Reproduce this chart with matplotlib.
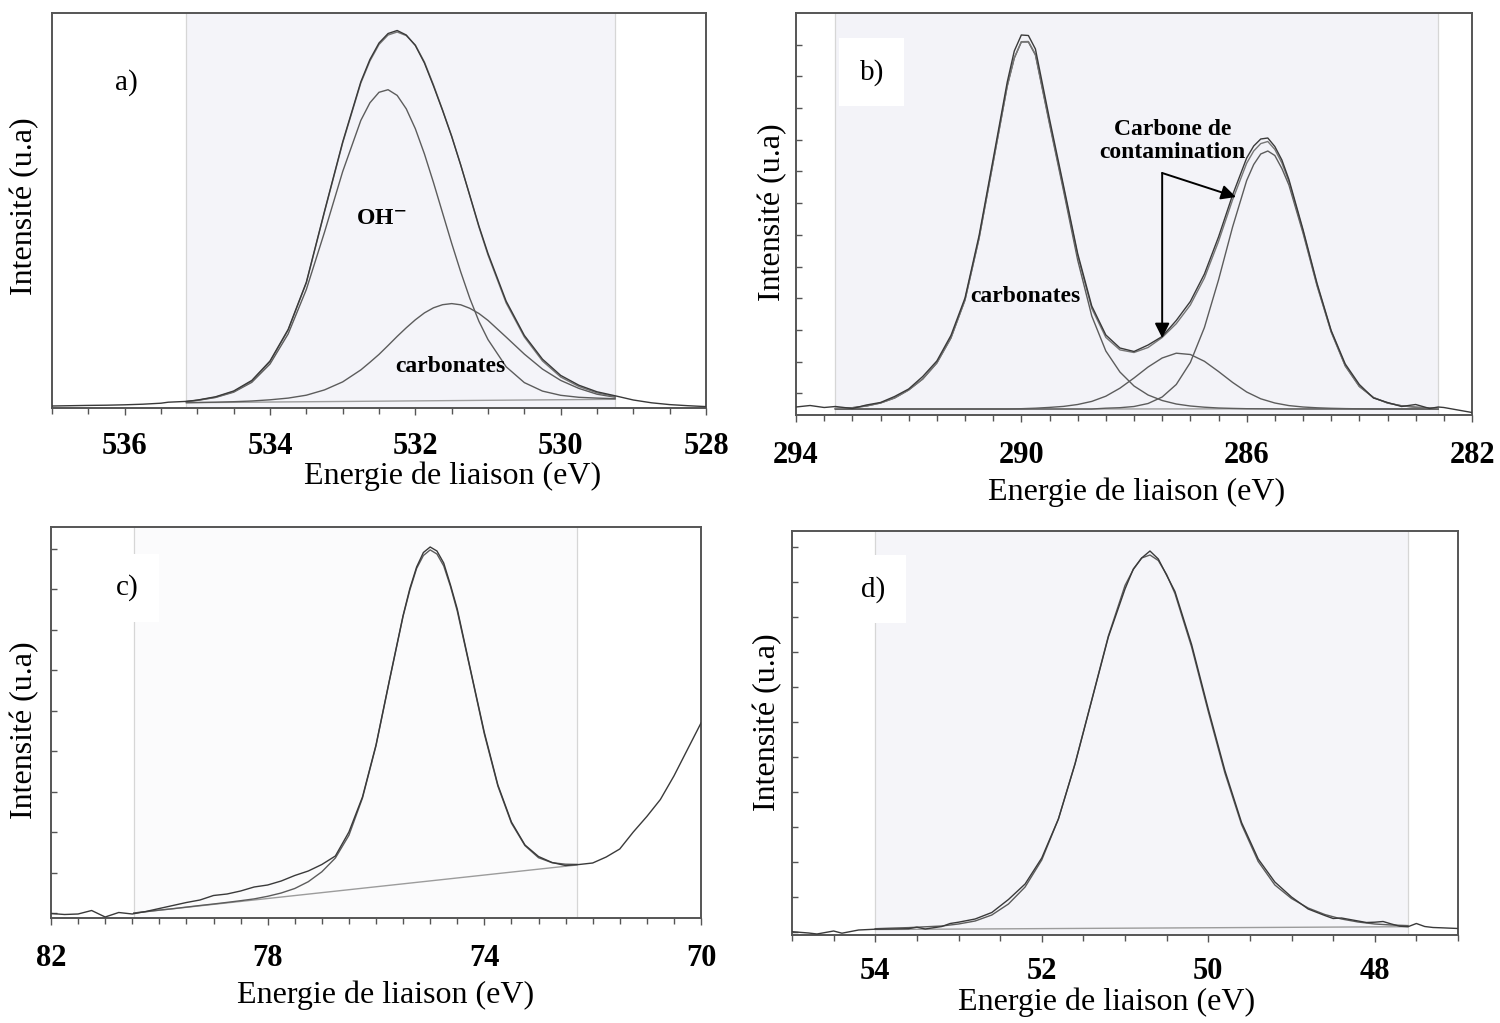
import matplotlib
matplotlib.use('Agg')
import numpy as np
import matplotlib.pyplot as plt
from matplotlib.ticker import MultipleLocator, StrMethodFormatter

plt.rcParams['font.family'] = ['Liberation Serif', 'DejaVu Serif']
plt.rcParams['mathtext.fontset'] = 'stix'

# ---- a) O 1s ----
a_e = [535.15, 535.0, 534.75, 534.5, 534.25, 534.0, 533.75, 533.5, 533.25, 533.0,
       532.75, 532.625, 532.5, 532.375, 532.25, 532.125, 532.0, 531.875, 531.75,
       531.625, 531.5, 531.375, 531.25, 531.125, 531.0, 530.75, 530.5, 530.25,
       530.0, 529.75, 529.5, 529.25]
a_oh = [6.5, 7.6, 10.5, 15.8, 25.7, 44.0, 74.1, 118.5, 175.8, 236.4,
        287.6, 305.2, 315.7, 318.3, 312.6, 299.2, 279.3, 254.1, 225.4,
        195.0, 164.7, 136.0, 109.6, 86.7, 68.4, 41.2, 25.4, 16.9,
        12.7, 10.7, 9.9, 9.3]
a_carb = [5.3, 5.5, 5.8, 6.3, 7.0, 8.2, 9.9, 12.8, 18.1, 26.1,
          38.1, 45.7, 53.6, 62.5, 71.6, 80.2, 88.2, 95.1, 100.2,
          103.3, 104.4, 103.2, 99.7, 94.5, 87.6, 70.9, 53.9, 38.9,
          27.6, 19.6, 13.8, 10.8]
a_env = [6.5, 7.7, 10.8, 16.4, 26.9, 46.2, 77.9, 125.1, 196.0, 265.0,
         325.0, 347.0, 363.5, 373.0, 376.0, 372.4, 363.0, 346.0, 323.0,
         298.0, 272.0, 243.0, 212.0, 181.0, 153.0, 105.0, 71.0, 47.0,
         31.0, 21.5, 15.1, 11.4]
a_bg_e = [535.15, 529.25]
a_bg = [5.3, 8.7]
a_raw_e = [537.0, 536.75, 536.5, 536.25, 536.0, 535.75, 535.5, 535.4,
           535.15, 535.0, 534.75, 534.5, 534.25, 534.0, 533.75, 533.5, 533.25, 533.0,
           532.75, 532.625, 532.5, 532.375, 532.25, 532.125, 532.0, 531.875, 531.75,
           531.625, 531.5, 531.375, 531.25, 531.125, 531.0, 530.75, 530.5, 530.25,
           530.0, 529.75, 529.5, 529.25,
           529.0, 528.75, 528.5, 528.25, 528.0]
a_raw = [2.0, 2.3, 2.6, 2.8, 3.2, 3.8, 4.8, 5.8,
         6.6, 7.9, 11.2, 17.0, 27.6, 47.0, 78.6, 125.8, 196.8, 266.0,
         326.2, 348.5, 365.0, 374.5, 377.5, 373.0, 362.5, 345.0, 322.0,
         297.5, 271.5, 242.8, 212.5, 182.0, 154.5, 106.8, 72.6, 48.8,
         32.6, 22.8, 16.2, 12.2,
         8.0, 5.2, 3.4, 2.3, 1.4]

# ---- b) C 1s ----
b_carb_e = [293.3, 293.0, 292.75, 292.5, 292.25, 292.0, 291.75, 291.5, 291.25, 291.0,
            290.75, 290.5, 290.25, 290.125, 290.0, 289.875, 289.75, 289.5, 289.25,
            289.0, 288.75, 288.5, 288.25, 288.0, 287.75, 287.5, 287.25, 287.0, 286.75,
            286.5, 286.25, 286.0, 285.75, 285.5, 285.25, 282.6]
b_carb = [4.5, 5.3, 7.0, 10.0, 15.0, 23.0, 34.0, 50.0, 75.0, 113.0,
          174.8, 250.7, 327.0, 355.0, 371.0, 371.0, 358.0, 289.0, 222.0,
          153.0, 97.0, 62.0, 41.0, 27.0, 18.0, 12.5, 9.0, 7.0, 5.8,
          5.0, 4.6, 4.3, 4.2, 4.1, 4.0, 4.0]
b_mid_e = [293.3, 290.25, 290.0, 289.75, 289.5, 289.25, 289.0, 288.75, 288.5, 288.25,
           288.0, 287.75, 287.5, 287.25, 287.0, 286.75, 286.5, 286.25, 286.0, 285.75,
           285.5, 285.25, 285.0, 284.75, 284.5, 284.25, 284.0, 283.75, 282.6]
b_mid = [4.0, 4.0, 4.3, 4.8, 5.6, 6.6, 8.5, 11.6, 16.8, 24.8,
         35.0, 46.0, 55.0, 59.8, 58.5, 51.7, 41.5, 30.6, 21.0, 14.2,
         10.0, 7.4, 6.0, 5.2, 4.7, 4.4, 4.2, 4.0, 4.0]
b_cc_e = [293.3, 288.75, 288.5, 288.25, 288.0, 287.75, 287.5, 287.25, 287.0, 286.75,
          286.5, 286.25, 286.0, 285.875, 285.75, 285.625, 285.5, 285.375, 285.25,
          285.0, 284.75, 284.5, 284.25, 284.0, 283.75, 283.5, 283.25, 283.0, 282.75,
          282.6]
b_cc = [4.0, 4.0, 4.8, 5.3, 6.5, 9.5, 16.0, 28.5, 50.5, 85.5,
        133.0, 186.0, 232.5, 248.5, 259.0, 262.0, 257.5, 244.5, 228.0,
        180.0, 127.0, 81.0, 47.0, 26.5, 15.5, 10.0, 7.2, 5.8, 5.0,
        4.7]
b_env_e = [293.3, 293.0, 292.75, 292.5, 292.25, 292.0, 291.75, 291.5, 291.25, 291.0,
           290.75, 290.5, 290.25, 290.125, 290.0, 289.875, 289.75, 289.5, 289.25,
           289.0, 288.75, 288.5, 288.25, 288.0, 287.75, 287.5, 287.25, 287.0, 286.75,
           286.5, 286.25, 286.0, 285.875, 285.75, 285.625, 285.5, 285.375, 285.25,
           285.0, 284.75, 284.5, 284.25, 284.0, 283.75, 283.5, 283.25, 283.0, 282.75,
           282.6]
b_env = [4.5, 5.3, 7.0, 10.0, 15.0, 23.0, 34.0, 50.0, 75.0, 113.0,
         174.8, 250.7, 327.0, 355.0, 371.3, 371.5, 358.8, 290.6, 224.6,
         157.5, 104.6, 75.6, 63.1, 60.5, 65.5, 75.5, 89.3, 108.0, 135.0,
         171.5, 213.2, 249.8, 262.0, 269.4, 271.5, 263.6, 250.0, 231.4,
         182.0, 128.2, 81.7, 47.4, 26.7, 15.5, 10.0, 7.2, 5.8, 5.0,
         4.7]
b_bg_e = [293.3, 282.6]
b_bg = [3.8, 4.3]
b_raw_e = [294.0, 293.75, 293.5,
           293.3, 293.0, 292.75, 292.5, 292.25, 292.0, 291.75, 291.5, 291.25, 291.0,
           290.75, 290.5, 290.25, 290.125, 290.0, 289.875, 289.75, 289.5, 289.25,
           289.0, 288.75, 288.5, 288.25, 288.0, 287.75, 287.5, 287.25, 287.0, 286.75,
           286.5, 286.25, 286.0, 285.875, 285.75, 285.625, 285.5, 285.375, 285.25,
           285.0, 284.75, 284.5, 284.25, 284.0, 283.75, 283.5, 283.25, 283.0, 282.75,
           282.6, 282.5, 282.25, 282.0]
b_raw = [6.0, 7.5, 5.5,
         6.5, 4.5, 8.0, 10.5, 16.5, 24.0, 36.5, 52.0, 77.5, 115.0,
         177.5, 254.0, 331.0, 362.0, 378.0, 377.5, 364.0, 294.0, 227.0,
         159.5, 107.0, 78.0, 65.0, 61.5, 68.0, 76.5, 92.5, 111.5, 139.0,
         176.0, 218.0, 255.0, 267.0, 274.0, 275.0, 266.5, 253.0, 233.5,
         183.5, 129.5, 82.5, 49.0, 28.5, 15.0, 10.5, 6.5, 8.5, 4.5,
         6.0, 5.5, 3.0, 0.5]

# ---- c) ----
c_e = [80.47, 80.25, 80.0, 79.75, 79.5, 79.25, 79.0, 78.75, 78.5, 78.25, 78.0,
       77.75, 77.5, 77.25, 77.0, 76.75, 76.5, 76.25, 76.0, 75.75, 75.5, 75.375,
       75.25, 75.125, 75.0, 74.875, 74.75, 74.625, 74.5, 74.25, 74.0, 73.75, 73.5,
       73.25, 73.0, 72.75, 72.5, 72.29]
c_fit = [5.0, 6.3, 7.9, 9.3, 10.9, 12.5, 14.0, 15.6, 17.3, 19.1, 21.7,
         25.0, 29.5, 36.3, 46.2, 60.0, 82.7, 119.9, 172.2, 237.7, 301.7, 328.0,
         349.6, 362.5, 368.1, 364.0, 352.1, 331.5, 307.0, 246.0, 184.0, 131.9, 94.9,
         72.4, 60.3, 55.3, 53.8, 53.6]
c_bg_e = [80.47, 72.29]
c_bg = [5.0, 53.0]
c_raw_e = [82.0, 81.75, 81.5, 81.25, 81.0, 80.75, 80.5, 80.25, 80.0, 79.75,
           79.5, 79.25, 79.0, 78.75, 78.5, 78.25, 78.0, 77.75, 77.5, 77.25,
           77.0, 76.75, 76.5, 76.25, 76.0, 75.75, 75.5, 75.375, 75.25, 75.125,
           75.0, 74.875, 74.75, 74.625, 74.5, 74.25, 74.0, 73.75, 73.5, 73.25,
           73.0, 72.75, 72.5, 72.25, 72.0, 71.75, 71.5, 71.25, 71.0, 70.75,
           70.5, 70.25, 70.0]
c_raw = [4.5, 3.5, 4.0, 7.5, 1.0, 5.5, 4.0, 6.5, 9.5, 12.5,
         15.5, 18.0, 22.5, 24.0, 27.0, 31.0, 33.0, 37.0, 42.5, 47.0,
         53.5, 62.0, 86.0, 121.0, 173.0, 238.5, 302.5, 329.5, 351.0, 365.5,
         371.0, 367.0, 355.0, 333.0, 309.0, 247.0, 185.5, 133.0, 96.0, 73.0,
         61.5, 55.5, 52.5, 53.5, 55.0, 61.0, 69.0, 86.0, 101.5, 118.5,
         142.0, 168.5, 195.0]

# ---- d) ----
d_e = [54.0, 53.8, 53.6, 53.4, 53.2, 53.0, 52.8, 52.6, 52.4, 52.2, 52.0,
       51.8, 51.6, 51.4, 51.2, 51.0, 50.9, 50.8, 50.7, 50.6, 50.5, 50.4, 50.2,
       50.0, 49.8, 49.6, 49.4, 49.2, 49.0, 48.8, 48.6, 48.4, 48.2, 48.0, 47.8,
       47.6]
d_fit = [6.3, 6.9, 7.4, 8.2, 9.0, 11.0, 14.0, 20.0, 31.0, 48.0, 75.0,
         116.0, 171.5, 235.0, 299.0, 349.5, 365.5, 377.0, 380.0, 374.5, 360.5, 341.5,
         288.0, 223.5, 162.0, 110.5, 73.5, 50.0, 36.5, 27.0, 20.5, 16.0, 13.0,
         11.0, 10.0, 9.4]
d_bg_e = [54.0, 47.6]
d_bg = [5.5, 8.3]
d_raw_e = [55.0, 54.8, 54.7, 54.5, 54.4, 54.2, 54.0, 53.8, 53.6, 53.5, 53.4, 53.2,
           53.1, 53.0, 52.8, 52.6, 52.4, 52.2, 52.0, 51.8, 51.6, 51.4, 51.2, 51.0,
           50.9, 50.8, 50.7, 50.6, 50.4, 50.2, 50.0, 49.8, 49.6, 49.4, 49.2, 49.0,
           48.8, 48.6, 48.5, 48.4, 48.3, 48.1, 48.0, 47.9, 47.8, 47.7, 47.6, 47.5,
           47.4, 47.3, 47.2, 47.0]
d_raw = [3.3, 2.0, 1.0, 4.0, 1.8, 5.0, 5.8, 6.0, 6.3, 7.8, 6.0, 8.5,
         11.5, 12.8, 16.0, 22.5, 35.5, 51.0, 77.0, 116.0, 171.0, 234.5, 298.0, 346.0,
         366.0, 377.0, 384.0, 376.0, 343.5, 290.5, 226.0, 164.5, 112.5, 76.0, 53.0, 38.0,
         26.0, 19.5, 16.5, 17.0, 15.5, 12.5, 12.8, 13.5, 11.0, 8.8, 8.3, 11.5,
         8.5, 7.5, 7.2, 6.5]

xlabel = 'Energie de liaison (eV)'
ylabel = 'Intensité (u.a)'

W, H = 1500, 1023
fig = plt.figure(figsize=(W / 100, H / 100), dpi=100)
fig.patch.set_facecolor('white')

RAW = '#3a3a3a'
FIT = '#5c5c5c'
ENV = '#767676'
BG = '#9c9c9c'
SPINE = '#555555'


def panel(box, xlim, ylim, region, major, offset, pad, shade, yt):
    l, r, t, b = box
    ax = fig.add_axes([l / W, 1 - b / H, (r - l) / W, (b - t) / H])
    ax.set_xlim(*xlim)
    ax.set_ylim(*ylim)
    ax.axvspan(region[0], region[1], color=shade, lw=0, zorder=0)
    for v in region:
        ax.axvline(v, color='#d6d6d6', lw=0.9, zorder=1)
    ax.xaxis.set_major_locator(MultipleLocator(major, offset=offset))
    ax.xaxis.set_minor_locator(MultipleLocator(0.5))
    ax.xaxis.set_major_formatter(StrMethodFormatter('{x:.0f}'))
    ax.tick_params(axis='x', which='major', direction='out', length=5, width=1.0,
                   color=SPINE, pad=pad, labelsize=22)
    ax.tick_params(axis='x', which='minor', direction='out', length=4, width=1.0,
                   color=SPINE)
    for lab in ax.get_xticklabels():
        lab.set_fontweight('bold')
    ax.set_yticks(yt)
    ax.set_yticklabels([])
    ax.tick_params(axis='y', direction='in', length=4, width=1.0, color=SPINE)
    for s in ax.spines.values():
        s.set_color(SPINE)
        s.set_linewidth(1.4)
    return ax


def label_texts(cx, cy, tx, ty, letter_ax, lx, ly, letter, box=False):
    fig.text(cx / W, 1 - cy / H, xlabel, ha='center', va='center', fontsize=23)
    fig.text(tx / W, 1 - ty / H, ylabel, ha='center', va='center', fontsize=23,
             rotation=90)
    kw = {}
    if box:
        kw['bbox'] = dict(boxstyle='square,pad=0.7', fc='white', ec='none')
    letter_ax.text(lx, ly, letter, transform=letter_ax.transAxes, ha='center',
                   va='center', fontsize=21, zorder=5, **kw)


# a)
ax = panel((52, 706, 13, 408), (537, 528), (0, 395), (a_bg_e[0], a_bg_e[1]), 2, 0, 12,
           '#f4f4f9', [])
ax.plot(a_bg_e, a_bg, color=BG, lw=1.0, zorder=2)
ax.plot(a_e, a_carb, color=FIT, lw=1.0, zorder=3)
ax.plot(a_e, a_oh, color=FIT, lw=1.0, zorder=3)
ax.plot(a_e, a_env, color=ENV, lw=1.0, zorder=3)
ax.plot(a_raw_e, a_raw, color=RAW, lw=1.0, zorder=4)
ax.text(532.47, 189, r'OH$^{\mathbf{-}}$', ha='center', va='center', fontsize=17,
        fontweight='bold')
ax.text(531.52, 42, 'carbonates', ha='center', va='center', fontsize=17,
        fontweight='bold')
label_texts(453, 476, 25, 206, ax, 0.113, 0.825, 'a)')

# b)
ax = panel((796, 1472, 13, 415), (294, 282), (-2, 400), (b_bg_e[0], b_bg_e[1]), 4, 2, 13.5,
           '#f3f3f8', np.arange(19.7, 390, 31.7))
ax.plot(b_bg_e, b_bg, color=BG, lw=1.0, zorder=2)
ax.plot(b_carb_e, b_carb, color=FIT, lw=1.0, zorder=3)
ax.plot(b_mid_e, b_mid, color=FIT, lw=1.0, zorder=3)
ax.plot(b_cc_e, b_cc, color=FIT, lw=1.0, zorder=3)
ax.plot(b_env_e, b_env, color=ENV, lw=1.0, zorder=3)
ax.plot(b_raw_e, b_raw, color=RAW, lw=1.0, zorder=4)
ax.text(289.93, 117, 'carbonates', ha='center', va='center', fontsize=17,
        fontweight='bold')
ax.text(287.31, 272, 'Carbone de\ncontamination', ha='center', va='center',
        fontsize=17, fontweight='bold', linespacing=1.1)
arrow = dict(arrowstyle='-|>', color='black', lw=1.4, mutation_scale=22,
             shrinkA=0, shrinkB=0)
ax.annotate('', xy=(287.50, 75), xytext=(287.50, 240), arrowprops=arrow, zorder=6)
ax.annotate('', xy=(286.19, 216), xytext=(287.50, 240), arrowprops=arrow, zorder=6)
label_texts(1137, 492, 773, 212, ax, 0.112, 0.853, 'b)', box=True)

# c)
ax = panel((51, 701, 527, 918), (82, 70), (0, 391), (c_bg_e[0], c_bg_e[1]), 4, 2, 14,
           '#fbfbfc', np.arange(5, 380, 40.5))
ax.plot(c_bg_e, c_bg, color=BG, lw=1.0, zorder=2)
ax.plot(c_e, c_fit, color=FIT, lw=1.0, zorder=3)
ax.plot(c_raw_e, c_raw, color=RAW, lw=1.0, zorder=4)
label_texts(386, 995, 25, 730, ax, 0.118, 0.844, 'c)', box=True)

# d)
ax = panel((792, 1458, 531, 935), (55, 47), (0, 404), (d_bg_e[0], d_bg_e[1]), 2, 0, 11,
           '#f5f5f9', np.arange(3, 395, 35))
ax.plot(d_bg_e, d_bg, color=BG, lw=1.0, zorder=2)
ax.plot(d_e, d_fit, color=FIT, lw=1.0, zorder=3)
ax.plot(d_raw_e, d_raw, color=RAW, lw=1.0, zorder=4)
label_texts(1107, 1002, 768, 722, ax, 0.122, 0.856, 'd)', box=True)

fig.savefig('out.png', dpi=100, facecolor='white')
